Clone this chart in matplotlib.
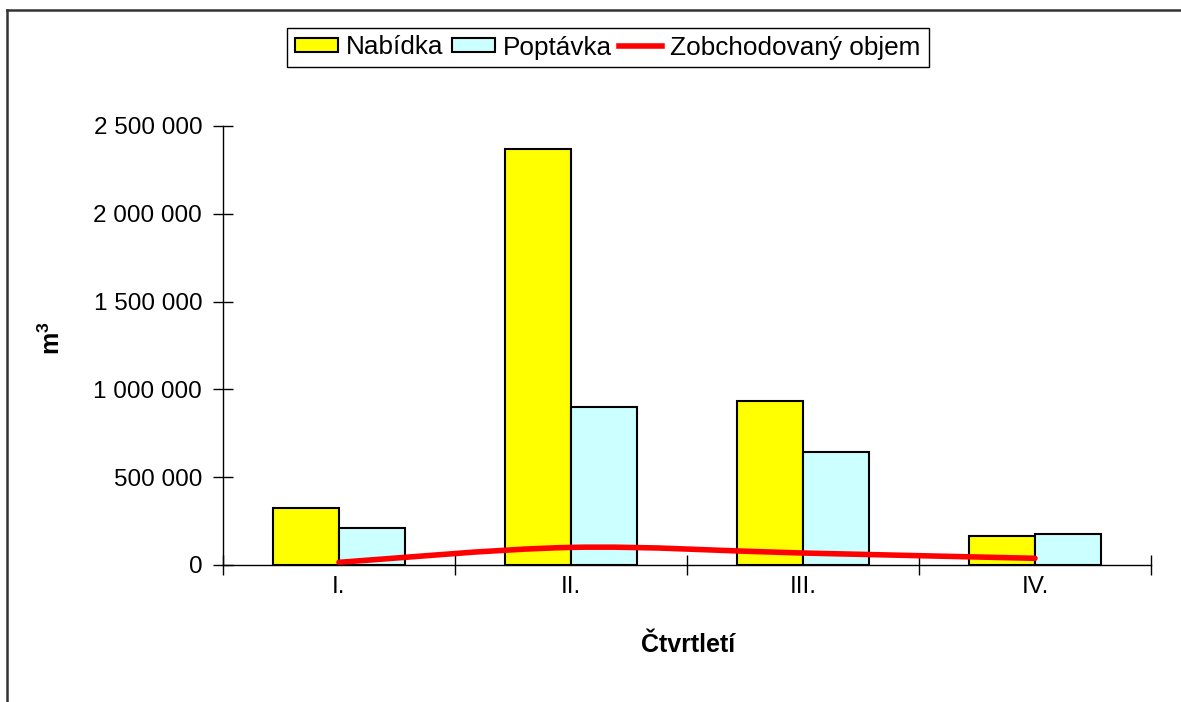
import matplotlib.pyplot as plt
import numpy as np
from matplotlib.path import Path
from matplotlib.patches import PathPatch
from matplotlib.lines import Line2D
from matplotlib.ticker import FuncFormatter

plt.rcParams['font.family'] = ['Liberation Sans', 'DejaVu Sans']
plt.rcParams['mathtext.fontset'] = 'custom'
plt.rcParams['mathtext.rm'] = 'Liberation Sans'
plt.rcParams['mathtext.bf'] = 'Liberation Sans:bold'

# data
kvartaly = ["I.", "II.", "III.", "IV."]
nabidka = [325000, 2368000, 934000, 165000]
poptavka = [211000, 900000, 644000, 177000]
zobchodovano = [15000, 100000, 68000, 38000]

fig = plt.figure(figsize=(11.81, 7.02), dpi=100)
ax = fig.add_axes([0.1888, 0.1952, 0.7858, 0.6254])

x = np.arange(len(kvartaly))
sirka = 0.2845

ax.bar(x - sirka / 2, nabidka, sirka, color='#FFFF00', edgecolor='black', linewidth=1.5, zorder=2)
ax.bar(x + sirka / 2, poptavka, sirka, color='#CCFFFF', edgecolor='black', linewidth=1.5, zorder=2)

# vyhlazena cara (Catmull-Rom -> Bezier, jako v Excelu)
body = list(zip(x.astype(float), zobchodovano))
verts = [body[0]]
codes = [Path.MOVETO]
for i in range(len(body) - 1):
    p0 = body[i - 1] if i > 0 else body[i]
    p1 = body[i]
    p2 = body[i + 1]
    p3 = body[i + 2] if i + 2 < len(body) else body[i + 1]
    c1 = (p1[0] + (p2[0] - p0[0]) / 6, p1[1] + (p2[1] - p0[1]) / 6)
    c2 = (p2[0] - (p3[0] - p1[0]) / 6, p2[1] - (p3[1] - p1[1]) / 6)
    verts += [c1, c2, p2]
    codes += [Path.CURVE4] * 3
ax.add_patch(PathPatch(Path(verts, codes), facecolor='none', edgecolor='#FF0000',
                       linewidth=4, capstyle='round', zorder=3))

# osy
ax.set_xlim(-0.5, len(kvartaly) - 0.5)
ax.set_ylim(0, 2500000)
ax.set_yticks(np.arange(0, 2500001, 500000))
ax.yaxis.set_major_formatter(FuncFormatter(lambda v, p: f"{int(v):,}".replace(",", " ")))
ax.set_xticks(np.arange(-0.5, len(kvartaly), 1.0))
ax.set_xticklabels([])
ax.set_xticks(x, minor=True)
ax.set_xticklabels(kvartaly, minor=True)
ax.tick_params(axis='x', which='major', direction='inout', length=14, width=1)
ax.tick_params(axis='x', which='minor', length=0, pad=8, labelsize=17.5)
ax.tick_params(axis='y', direction='inout', length=14, width=1, pad=8, labelsize=17.5)

for s in ['top', 'right']:
    ax.spines[s].set_visible(False)
for s in ['left', 'bottom']:
    ax.spines[s].set_linewidth(1)
    ax.spines[s].set_zorder(4)

fig.text(52 / 1181, 1 - 338 / 702, r"$\mathbf{m^3}$", rotation=90, fontsize=18,
         ha='center', va='center')
fig.text(688 / 1181, 1 - 645 / 702, "Čtvrtletí", fontsize=18, fontweight='bold',
         ha='center', va='center')

# legenda
handles = [
    plt.Rectangle((0, 0), 1, 1, facecolor='#FFFF00', edgecolor='black', linewidth=1.5),
    plt.Rectangle((0, 0), 1, 1, facecolor='#CCFFFF', edgecolor='black', linewidth=1.5),
    Line2D([], [], color='#FF0000', linewidth=4),
]
leg = fig.legend(handles, ["Nabídka", "Poptávka", "Zobchodovaný objem"], loc='center',
                 bbox_to_anchor=(608 / 1181, 1 - 47.5 / 702), ncol=3, fontsize=18.8,
                 frameon=True, fancybox=False, framealpha=1, edgecolor='black',
                 handlelength=1.65, handleheight=0.42, handletextpad=0.3,
                 columnspacing=0.3, borderpad=0.3, borderaxespad=0)
leg.get_frame().set_linewidth(1)

# ramecek grafu
fig.add_artist(Line2D([7 / 1181, 1], [1 - 10 / 702, 1 - 10 / 702], color='#333333', linewidth=1.8))
fig.add_artist(Line2D([7 / 1181, 7 / 1181], [0, 1 - 10 / 702], color='#333333', linewidth=1.8))

fig.savefig("out.png", dpi=100)
